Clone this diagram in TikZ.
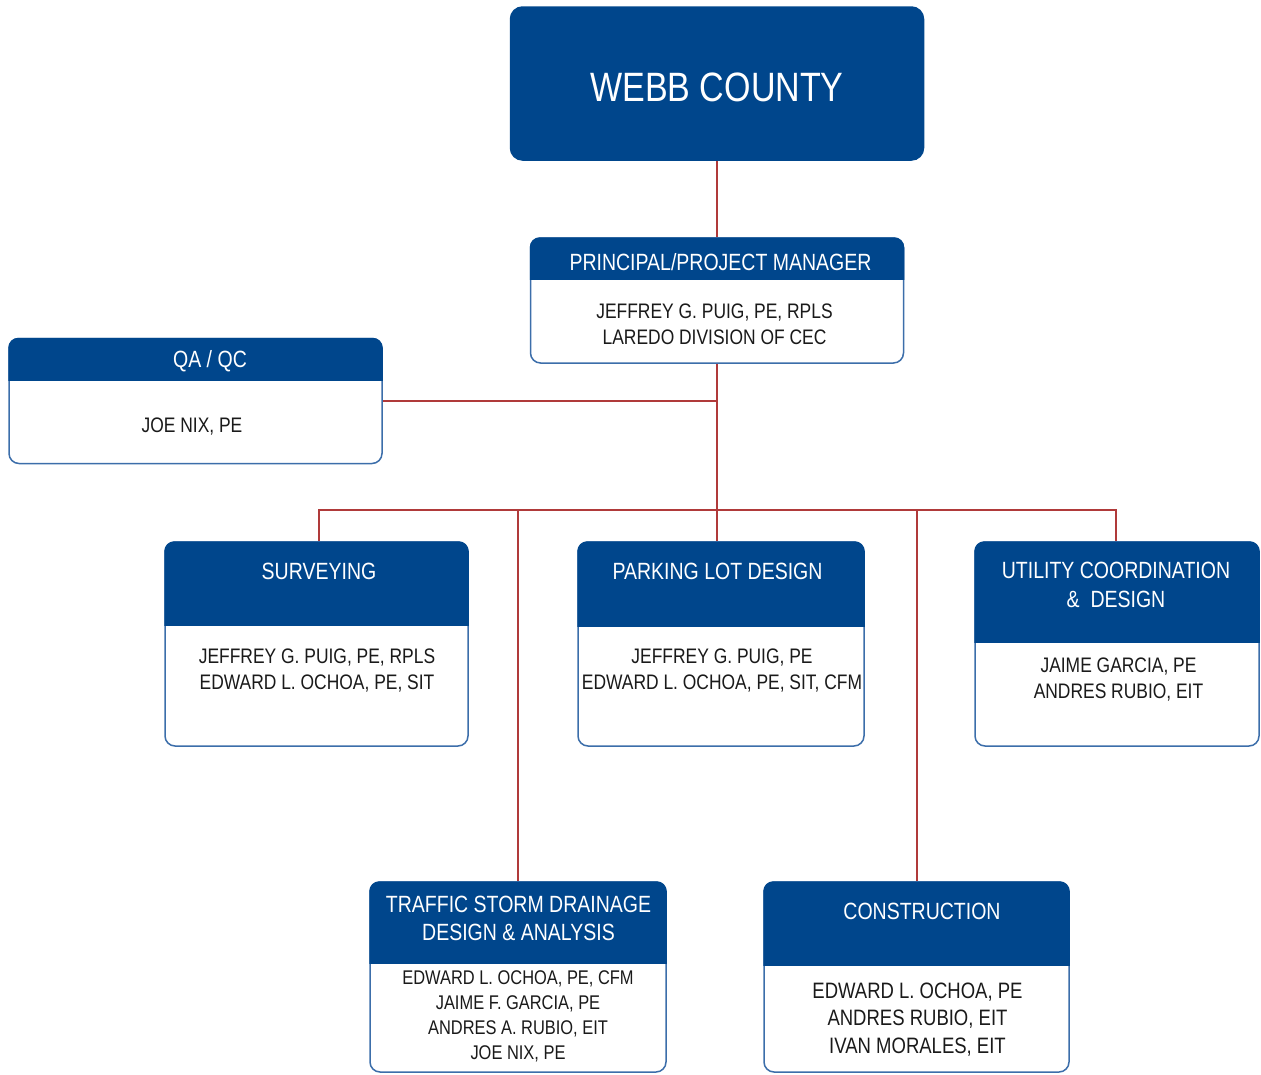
\documentclass[tikz,border=0pt]{standalone}
\usepackage{fontspec}
\setmainfont{Liberation Sans}[FakeStretch=0.83]
\usepackage{tikz}
\usetikzlibrary{positioning}

\definecolor{hdrfill}{HTML}{00468C}
\definecolor{boxline}{HTML}{3C6EAA}
\definecolor{linkred}{HTML}{B03A3A}
\definecolor{bodyink}{HTML}{1A1A1A}

\tikzset{
  orgbox/.style={draw=boxline, line width=1.5pt, rounded corners=10pt, fill=white, inner sep=0pt},
  hdrtext/.style={text=white, align=center, inner sep=0pt, font=\fontsize{23.5}{28.5}\selectfont},
  bodytext/.style={text=bodyink, align=center, inner sep=0pt, font=\fontsize{21}{26}\selectfont},
  link/.style={draw=linkred, line width=2pt},
}

\begin{document}
\begin{tikzpicture}[x=1pt, y=-1pt]
				\useasboundingbox (0,0) rectangle (1261,1074);
				% boxes
				\node[orgbox, fill=hdrfill, draw=hdrfill, rounded corners=12pt, minimum width=413pt, minimum height=153pt] (webb) at (717, 83.5) {};
				\node[orgbox, minimum width=373pt, minimum height=125pt] (pm) at (717, 300.5) {};
				\node[orgbox, minimum width=373pt, minimum height=125pt] (qa) at (195.5, 401) {};
				\node[orgbox, minimum width=303pt, minimum height=204pt] (surv) at (316.5, 644) {};
				\node[orgbox, minimum width=286pt, minimum height=204pt] (park) at (721, 644) {};
				\node[orgbox, minimum width=284pt, minimum height=204pt] (util) at (1117, 644) {};
				\node[orgbox, minimum width=296pt, minimum height=190pt] (traf) at (518, 977) {};
				\node[orgbox, minimum width=305pt, minimum height=190pt] (cons) at (916.5, 977) {};
				% header bands
				\foreach \b/\y in {pm/279, qa/380, surv/625, park/626, util/642, traf/963, cons/965} {
					\begin{scope}
						\clip (\b.north west) rectangle (\b.east |- 0,\y);
						\fill[hdrfill, rounded corners=10pt] (\b.north west) rectangle (\b.south east);
					\end{scope}
				}
				% texts
				\node[hdrtext, font=\fontsize{41}{48}\selectfont] (webbtext) at (717, 87) {WEBB COUNTY};
				\node[hdrtext] (pmhead) at (720.5, 262) {PRINCIPAL/PROJECT MANAGER};
				\node[bodytext] (pmbody) at (714.5, 324.5) {JEFFREY G. PUIG, PE, RPLS\\LAREDO DIVISION OF CEC};
				\node[hdrtext] (qahead) at (210, 361) {QA / QC};
				\node[bodytext] (qabody) at (192, 426.5) {JOE NIX, PE};
				\node[hdrtext] (survhead) at (319, 571) {SURVEYING};
				\node[bodytext] (survbody) at (317, 670.5) {JEFFREY G. PUIG, PE, RPLS\\EDWARD L. OCHOA, PE, SIT};
				\node[hdrtext] (parkhead) at (717.5, 571) {PARKING LOT DESIGN};
				\node[bodytext] (parkbody) at (722, 670.5) {JEFFREY G. PUIG, PE\\EDWARD L. OCHOA, PE, SIT, CFM};
				\node[hdrtext] (utilhead) at (1116, 585) {UTILITY COORDINATION\\\&~~DESIGN};
				\node[bodytext] (utilbody) at (1118.5, 679.5) {JAIME GARCIA, PE\\ANDRES RUBIO, EIT};
				\node[hdrtext] (trafhead) at (518.5, 918.5) {TRAFFIC STORM DRAINAGE\\DESIGN \& ANALYSIS};
				\node[bodytext, font=\fontsize{19.8}{25}\selectfont] (trafbody) at (518, 1016) {EDWARD L. OCHOA, PE, CFM\\JAIME F. GARCIA, PE\\ANDRES A. RUBIO, EIT\\JOE NIX, PE};
				\node[hdrtext] (conshead) at (922, 911) {CONSTRUCTION};
				\node[bodytext, font=\fontsize{22.3}{27.5}\selectfont] (consbody) at (917.5, 1019.5) {EDWARD L. OCHOA, PE\\ANDRES RUBIO, EIT\\IVAN MORALES, EIT};
				% connectors
				\coordinate (bus) at (717, 510);
				\draw[link] (webb.south) -- (pm.north);
				\draw[link] (pm.south) -- (bus);
				\draw[link] (qa.east) -- (qa.east -| pm.south);
				\draw[link] ([xshift=2.5pt]surv.north) |- (bus) -| ([xshift=-1pt]util.north);
				\draw[link] (bus) -- (bus |- park.north);
				\draw[link] (bus -| traf.north) -- (traf.north);
				\draw[link] ([xshift=0.5pt]bus -| cons.north) -- ([xshift=0.5pt]cons.north);
			\end{tikzpicture}
\end{document}
